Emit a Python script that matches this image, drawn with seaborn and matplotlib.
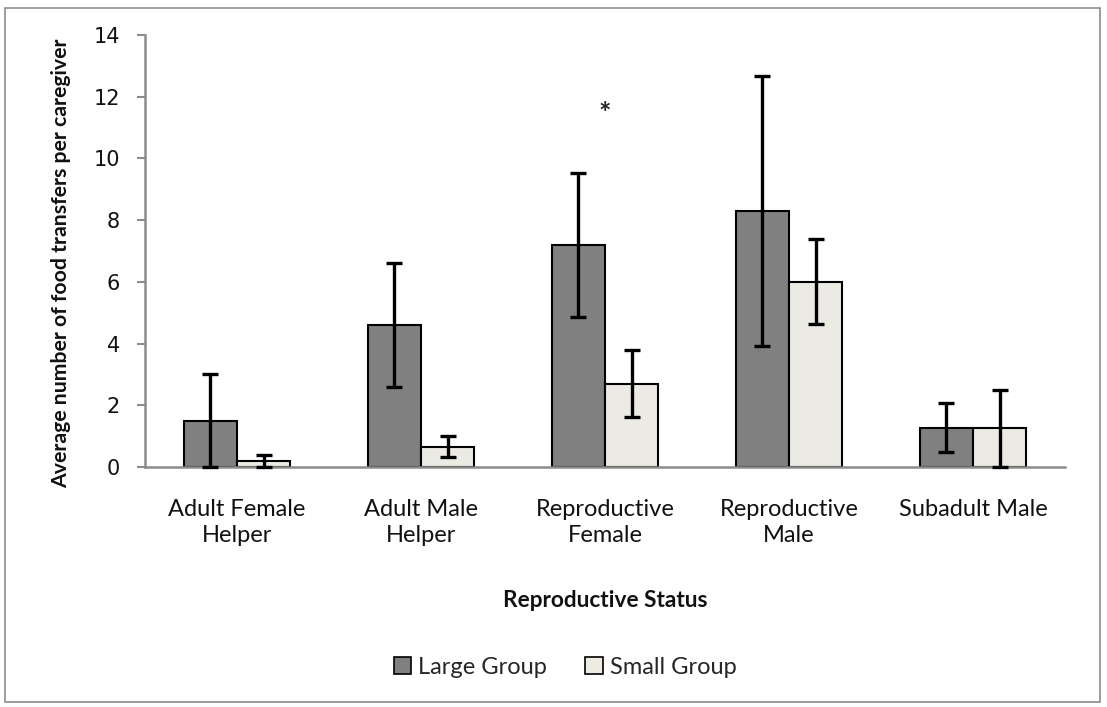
import matplotlib
matplotlib.use("Agg")
import matplotlib.pyplot as plt
import seaborn as sns
import pandas as pd
import numpy as np
from matplotlib.patches import Rectangle

categories = ["Adult Female\nHelper", "Adult Male\nHelper", "Reproductive\nFemale",
              "Reproductive\nMale", "Subadult Male"]
groups = ["Large Group", "Small Group"]
large_vals = [1.5, 4.6, 7.2, 8.3, 1.28]
small_vals = [0.2, 0.66, 2.7, 6.0, 1.25]
large_err = [1.5, 2.0, 2.33, 4.38, 0.81]
small_err = [0.2, 0.33, 1.08, 1.38, 1.25]
colors = ["#808080", "#EEECE1"]
y_ticks = [0, 2, 4, 6, 8, 10, 12, 14]

sns.set_style("white")
plt.rcParams['font.family'] = ['Lato', 'DejaVu Sans']

df = pd.DataFrame({
    "Reproductive Status": categories * 2,
    "Group": [groups[0]] * 5 + [groups[1]] * 5,
    "value": large_vals + small_vals,
})

fig = plt.figure(figsize=(11.07, 7.07), dpi=100)
ax = fig.add_axes([145 / 1107, 1 - 467 / 707, 920 / 1107, 432 / 707])

sns.barplot(data=df, x="Reproductive Status", y="value", hue="Group",
            order=categories, hue_order=groups, palette=colors,
            errorbar=None, width=0.58, gap=0, edgecolor="black", linewidth=1.5,
            ax=ax, legend=False)

errs = [large_err, small_err]
for cont, err in zip(ax.containers, errs):
    xs = [p.get_x() + p.get_width() / 2 for p in cont.patches]
    hs = [p.get_height() for p in cont.patches]
    ax.errorbar(xs, hs, yerr=err, fmt="none", ecolor="black", elinewidth=2.4,
                capsize=6, capthick=2.4, zorder=5, clip_on=False)

ax.set_ylim(0, 14)
ax.set_xlim(-0.5, 4.5)
ax.set_yticks(y_ticks)
ax.set_yticklabels([str(t) for t in y_ticks], fontsize=15, family="DejaVu Sans",
                   color="#111111")
ax.set_xticks(np.arange(-0.5, 5.0, 1.0), minor=True)
ax.set_xticks(range(5))
ax.set_xticklabels(categories, fontsize=17, linespacing=1.32, color="#111111")
ax.tick_params(axis="x", which="major", length=0, pad=23)
ax.tick_params(axis="x", which="minor", length=6, color="#8c8c8c", width=1.5, direction="out")
ax.tick_params(axis="y", length=6, color="#8c8c8c", width=1.5, direction="out", left=True, pad=12)

for s in ["top", "right"]:
    ax.spines[s].set_visible(False)
for s in ["left", "bottom"]:
    ax.spines[s].set_color("#8c8c8c")
    ax.spines[s].set_linewidth(1.8)

ax.set_xlabel("Reproductive Status", fontsize=16.3, fontweight="bold", color="#111111")
ax.xaxis.set_label_coords(0.5, (467 - 590) / 432)
ax.set_ylabel("Average number of food transfers per caregiver", fontsize=15.3,
              fontweight="bold", color="#111111")
ax.yaxis.set_label_coords((71 - 145) / 920, (467 - 263) / 432)

ax.text(2.0, 11.45, "*", ha="center", va="center", fontsize=21, fontweight="bold")

handles = [Rectangle((0, 0), 1, 1, facecolor=c, edgecolor="black", linewidth=1.2) for c in colors]
fig.legend(handles, groups, loc="center", bbox_to_anchor=(565 / 1107, 1 - 667 / 707),
           ncol=2, frameon=False, fontsize=17, handlelength=0.75, handleheight=0.75,
           handletextpad=0.3, columnspacing=1.6)

fig.patches.append(Rectangle((5 / 1107, 5 / 707), 1095 / 1107, 694 / 707,
                             transform=fig.transFigure, fill=False,
                             edgecolor="#8c8c8c", linewidth=1.2))

fig.savefig("out.png", dpi=100)
